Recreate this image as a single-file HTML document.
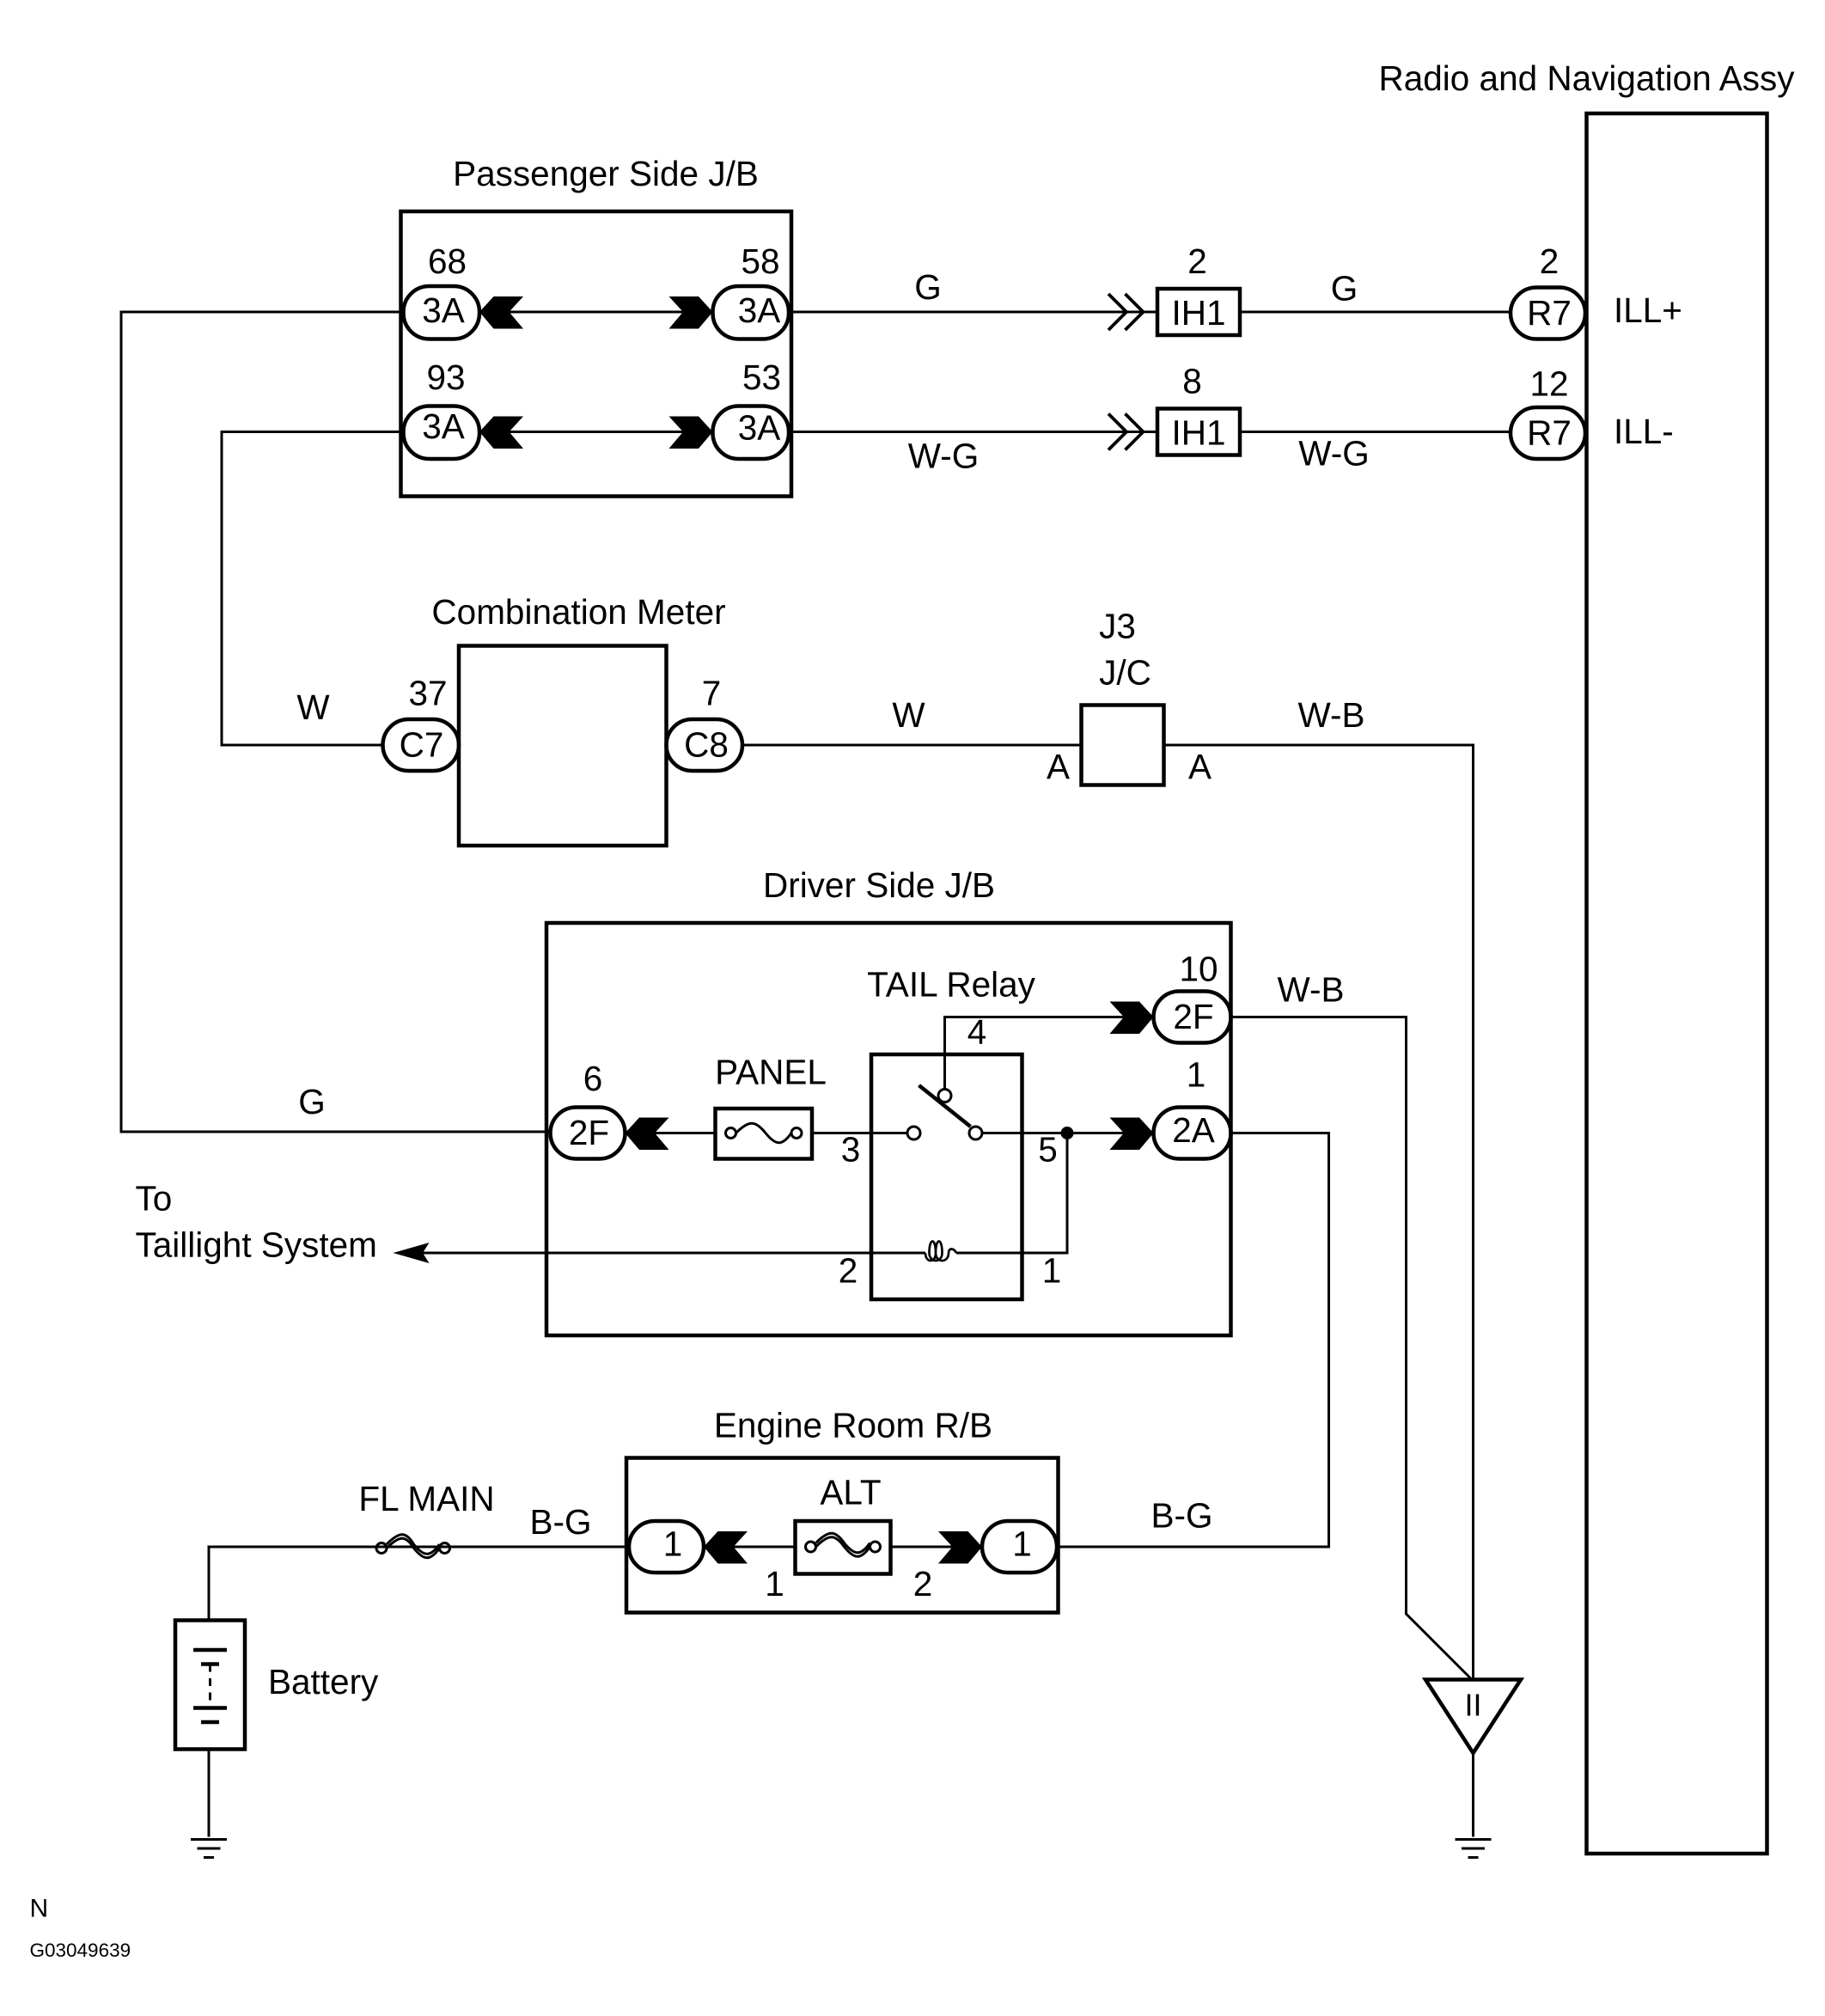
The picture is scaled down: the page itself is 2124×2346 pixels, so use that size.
<!DOCTYPE html>
<html><head><style>html,body{margin:0;padding:0;background:#fff}svg{display:block}</style></head>
<body>
<svg width="2124" height="2346" viewBox="0 0 1416 1564" xmlns="http://www.w3.org/2000/svg" font-family="Liberation Sans, sans-serif" font-size="27">
<defs>
<path id="cl" d="M0,0 L11,-12 L34,-12 L23,0 L34,13 L11,13 Z" fill="#000"/>
<path id="cr" d="M0,0 L-11,-12 L-34,-12 L-23,0 L-34,13 L-11,13 Z" fill="#000"/>
<path id="dbl" d="M-38,-14 L-24,0 L-38,14 M-25,-14 L-11,0 L-25,14" fill="none" stroke="#000" stroke-width="2.5"/>
<g id="gnd" stroke="#000" stroke-width="2"><line x1="-14" y1="0" x2="14" y2="0"/><line x1="-9" y1="7" x2="9" y2="7"/><line x1="-4" y1="14" x2="4" y2="14"/></g>
</defs>
<g fill="none" stroke="#000" stroke-width="2">
<polyline points="313,242 94,242 94,878 427,878"/>
<polyline points="313,335 172,335 172,578 297,578"/>
<line x1="372" y1="242" x2="553" y2="242"/>
<line x1="372" y1="335" x2="553" y2="335"/>
<line x1="612" y1="242" x2="898" y2="242"/>
<line x1="962" y1="242" x2="1172" y2="242"/>
<line x1="612" y1="335" x2="898" y2="335"/>
<line x1="962" y1="335" x2="1172" y2="335"/>
<line x1="576" y1="578" x2="839" y2="578"/>
<polyline points="903,578 1143,578 1143,1303"/>
<polyline points="955,789 1091,789 1091,1252 1141,1302"/>
<line x1="1143" y1="1360" x2="1143" y2="1425"/>
<polyline points="733,847 733,789 895,789"/>
<line x1="485" y1="879" x2="555" y2="879"/>
<line x1="630" y1="879" x2="709" y2="879"/>
<line x1="757" y1="879" x2="895" y2="879"/>
<polyline points="828,879 828,972 742,972"/>
<line x1="718" y1="972" x2="320" y2="972"/>
<polyline points="955,879 1031,879 1031,1200 820,1200"/>
<line x1="546" y1="1200" x2="617" y2="1200"/>
<line x1="691" y1="1200" x2="762" y2="1200"/>
<polyline points="488,1200 162,1200 162,1257"/>
<line x1="162" y1="1357" x2="162" y2="1425"/>
</g>
<g fill="none" stroke="#000" stroke-width="3">
<rect x="1231" y="88" width="140" height="1350"/>
<rect x="311" y="164" width="303" height="221"/>
<rect x="356" y="501" width="161" height="155"/>
<rect x="839" y="547" width="64" height="62"/>
<rect x="424" y="716" width="531" height="320"/>
<rect x="676" y="818" width="117" height="190"/>
<rect x="486" y="1131" width="335" height="120"/>
<rect x="555" y="860" width="75" height="39"/>
<rect x="617" y="1180" width="74" height="41"/>
<rect x="136" y="1257" width="54" height="100"/>
<rect x="898" y="224" width="64" height="36"/>
<rect x="898" y="317" width="64" height="36"/>
<rect x="313" y="222" width="59" height="41" rx="20"/>
<rect x="553" y="222" width="59" height="41" rx="20"/>
<rect x="313" y="315" width="59" height="41" rx="20"/>
<rect x="553" y="315" width="59" height="41" rx="20"/>
<rect x="1172" y="223" width="58" height="40" rx="20"/>
<rect x="1172" y="316" width="58" height="40" rx="20"/>
<rect x="297" y="558" width="59" height="40" rx="20"/>
<rect x="517" y="558" width="59" height="40" rx="20"/>
<rect x="895" y="769" width="60" height="40" rx="20"/>
<rect x="895" y="859" width="60" height="40" rx="20"/>
<rect x="427" y="859" width="58" height="40" rx="20"/>
<rect x="488" y="1180" width="58" height="40" rx="20"/>
<rect x="762" y="1180" width="58" height="40" rx="20"/>
</g>
<use href="#cl" x="372" y="242"/><use href="#cr" x="553" y="242"/>
<use href="#cl" x="372" y="335"/><use href="#cr" x="553" y="335"/>
<use href="#cr" x="895" y="789"/><use href="#cr" x="895" y="879"/>
<use href="#cl" x="485" y="879"/>
<use href="#cl" x="546" y="1200"/><use href="#cr" x="762" y="1200"/>
<use href="#dbl" x="898" y="242"/><use href="#dbl" x="898" y="335"/>
<g fill="#fff" stroke="#000" stroke-width="2">
<circle cx="709" cy="879" r="5"/><circle cx="757" cy="879" r="5"/><circle cx="733" cy="850" r="5"/>
</g>
<line x1="713" y1="842" x2="753" y2="874" stroke="#000" stroke-width="3"/>
<path d="M718,972 c0,8 8,8 8,0 c0,-12 -5,-12 -5,0 c0,8 10,8 10,0 c0,-12 -5,-12 -5,0 c0,8 10,8 10,0 c0,-4 4,-4 6,0" fill="none" stroke="#000" stroke-width="1.8"/>
<circle cx="828" cy="879" r="5" fill="#000"/>
<path d="M305,972 L333,964 L328,972 L333,980 Z" fill="#000"/>
<g fill="none" stroke="#000" stroke-width="2">
<circle cx="567" cy="879" r="4"/><circle cx="618" cy="879" r="4"/>
<path d="M571,879 c10,-10 15,-10 23,0 c8,10 13,10 20,0"/>
<circle cx="629" cy="1200" r="4"/><circle cx="679" cy="1200" r="4"/>
<path d="M633,1200 c10,-10 15,-10 22,0 c8,10 13,10 20,0 M633,1197 c10,-10 15,-10 22,0 c8,10 13,10 20,0"/>
<circle cx="296" cy="1201" r="4"/><circle cx="345" cy="1201" r="4"/>
<path d="M300,1201 c10,-10 15,-10 21,0 c8,10 13,10 20,0 M300,1198 c10,-10 15,-10 21,0 c8,10 13,10 20,0"/>
</g>
<g stroke="#000" stroke-width="3">
<line x1="150" y1="1280" x2="176" y2="1280"/><line x1="156" y1="1291" x2="170" y2="1291"/>
<line x1="150" y1="1325" x2="176" y2="1325"/><line x1="156" y1="1336" x2="170" y2="1336"/>
</g>
<line x1="163" y1="1291" x2="163" y2="1325" stroke="#000" stroke-width="2" stroke-dasharray="6,5"/>
<path d="M1106,1303 L1180,1303 L1143,1360 Z" fill="#fff" stroke="#000" stroke-width="3"/>
<text x="1143" y="1331" text-anchor="middle" font-size="24">II</text>
<use href="#gnd" x="1143" y="1427"/><use href="#gnd" x="162" y="1427"/>
<g text-anchor="middle">
<text x="1231" y="70">Radio and Navigation Assy</text>
<text x="470" y="144">Passenger Side J/B</text>
<text x="347" y="212">68</text><text x="590" y="212">58</text>
<text x="346" y="302">93</text><text x="591" y="302">53</text>
<text x="344" y="250">3A</text><text x="589" y="250">3A</text>
<text x="344" y="340">3A</text><text x="589" y="341">3A</text>
<text x="720" y="232">G</text><text x="929" y="212">2</text><text x="930" y="252">IH1</text>
<text x="1043" y="233">G</text><text x="1202" y="212">2</text><text x="1202" y="252">R7</text>
<text x="732" y="363">W-G</text><text x="925" y="305">8</text><text x="930" y="345">IH1</text>
<text x="1035" y="361">W-G</text><text x="1202" y="307">12</text><text x="1202" y="345">R7</text>
<text x="449" y="484">Combination Meter</text>
<text x="243" y="558">W</text><text x="332" y="547">37</text><text x="552" y="547">7</text>
<text x="327" y="587">C7</text><text x="548" y="587">C8</text>
<text x="705" y="564">W</text>
<text x="867" y="495">J3</text><text x="873" y="531">J/C</text>
<text x="821" y="604">A</text><text x="931" y="604">A</text>
<text x="1033" y="564">W-B</text>
<text x="682" y="696">Driver Side J/B</text>
<text x="738" y="773">TAIL Relay</text>
<text x="930" y="761">10</text><text x="926" y="798">2F</text>
<text x="1017" y="777">W-B</text>
<text x="758" y="810">4</text>
<text x="928" y="843">1</text><text x="926" y="886">2A</text>
<text x="460" y="846">6</text><text x="457" y="888">2F</text>
<text x="242" y="864">G</text>
<text x="598" y="841">PANEL</text>
<text x="660" y="901">3</text><text x="813" y="901">5</text>
<text x="658" y="995">2</text><text x="816" y="995">1</text>
<text x="662" y="1115">Engine Room R/B</text>
<text x="660" y="1167">ALT</text>
<text x="522" y="1207">1</text><text x="793" y="1207">1</text>
<text x="601" y="1238">1</text><text x="716" y="1238">2</text>
<text x="331" y="1172">FL MAIN</text>
<text x="435" y="1190">B-G</text><text x="917" y="1185">B-G</text>
</g>
<text x="1252" y="250">ILL+</text><text x="1252" y="344">ILL-</text>
<text x="105" y="939">To</text><text x="105" y="975">Taillight System</text>
<text x="208" y="1314">Battery</text>
<text x="23" y="1487" font-size="20">N</text>
<text x="23" y="1518" font-size="15">G03049639</text>
</svg>
</body></html>
